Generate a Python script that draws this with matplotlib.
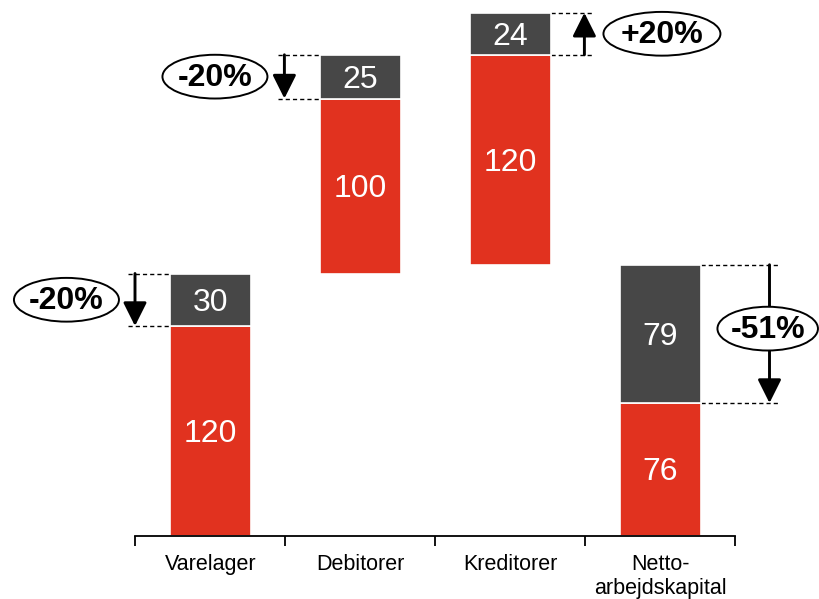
import matplotlib.pyplot as plt
from matplotlib.patches import Ellipse

# bar data (red = base part, gray = change part stacked on top)
categories = ['Varelager', 'Debitorer', 'Kreditorer', 'Netto-\narbejdskapital']
base_values = [120, 100, 120, 76]
base_bottoms = [0, 150, 155, 0]
change_values = [30, 25, 24, 79]
pct_labels = ['-20%', '-20%', '+20%', '-51%']

RED = '#E1321F'
GRAY = '#474747'

plt.rcParams['font.family'] = ['Liberation Sans', 'DejaVu Sans']

fig = plt.figure(figsize=(8.19, 5.99), dpi=100)
ax = fig.add_axes([0, 0, 1, 1])
ax.set_xlim(-1.403, 4.057)
ax.set_ylim(-36, 306.3)

x = list(range(len(categories)))
width = 0.54
txt_dy = -1.7  # nudge bar numbers down a little

for i in x:
    b = base_bottoms[i]
    ax.bar(i, base_values[i], width, bottom=b, color=RED, edgecolor='white', linewidth=1.2, zorder=2)
    ax.bar(i, change_values[i], width, bottom=b + base_values[i], color=GRAY,
           edgecolor='white', linewidth=1.2, zorder=2)
    ax.text(i, b + base_values[i] / 2 + txt_dy, str(base_values[i]), color='white', fontsize=23,
            ha='center', va='center', zorder=3)
    ax.text(i, b + base_values[i] + change_values[i] / 2 + txt_dy, str(change_values[i]),
            color='white', fontsize=23, ha='center', va='center', zorder=3)

# annotation layout: (dashed line start, dashed end, arrow x, ellipse x, ellipse y offset, ellipse width)
layout = [
    (-0.55, -0.27, -0.503, -0.96, 0, 0.70),
    (-0.55, -0.27, -0.507, -0.97, 0, 0.70),
    (0.27, 0.55, 0.493, 1.01, 0, 0.78),
    (0.27, 0.79, 0.727, 0.715, 3, 0.67),
]

for i in x:
    x0, x1, xa, xe, dy, we = layout[i]
    lo = base_bottoms[i] + base_values[i]
    hi = lo + change_values[i]
    for yy in (lo, hi):
        ax.plot([i + x0, i + x1], [yy, yy], color='black', linestyle=(0, (3, 2.2)),
                linewidth=1.0, zorder=1)
    if pct_labels[i].startswith('+'):
        start, end = lo, hi
    else:
        start, end = hi, lo
    ax.annotate('', xy=(i + xa, end), xytext=(i + xa, start),
                arrowprops=dict(arrowstyle='-|>,head_length=0.6,head_width=0.3', mutation_scale=24,
                                color='black', linewidth=2.1, shrinkA=0, shrinkB=0), zorder=3)
    yc = (lo + hi) / 2 + dy
    ax.add_patch(Ellipse((i + xe, yc), we, 25, facecolor='white', edgecolor='black',
                         linewidth=1.4, zorder=4))
    ax.text(i + xe, yc - 0.8, pct_labels[i], fontsize=23, fontweight='bold', ha='center',
            va='center', zorder=5)

# axis
for s in ['top', 'right', 'left']:
    ax.spines[s].set_visible(False)
ax.spines['bottom'].set_position(('data', 0))
ax.spines['bottom'].set_bounds(-0.5, len(categories) - 0.5)
ax.spines['bottom'].set_linewidth(1.3)
ax.set_yticks([])
ax.set_xticks(x)
ax.set_xticklabels(categories, fontsize=15.5)
ax.tick_params(axis='x', which='major', length=0, pad=13)
ax.set_xticks([i - 0.5 for i in range(len(categories) + 1)], minor=True)
ax.tick_params(axis='x', which='minor', length=7, width=1.3, direction='out')

fig.savefig('out.png', dpi=100)
